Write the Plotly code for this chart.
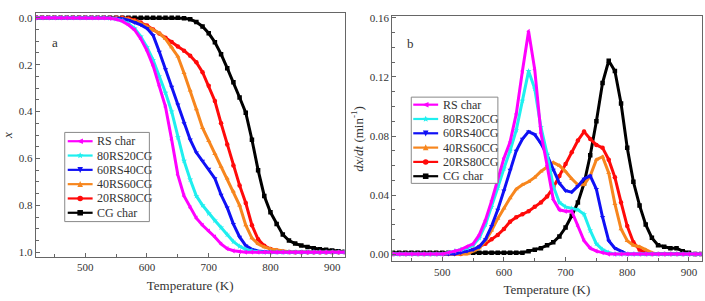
import math
import plotly.graph_objects as go

# Temperatures (K) shared by all series
temperature = list(range(420, 930, 10))  # 420..920

names = ["RS char", "80RS20CG", "60RS40CG", "40RS60CG", "20RS80CG", "CG char"]
colors = ["#FF00FF", "#1FEFEF", "#1010F5", "#F7861E", "#FF0A0A", "#000000"]
symbols = ["triangle-left", "star", "triangle-down", "triangle-up", "circle", "square"]

# ---- conversion x (panel a) ----
x_rs = [0]*12 + [0.002, 0.006, 0.014, 0.03, 0.052, 0.09, 0.14, 0.205, 0.29, 0.38, 0.52, 0.67,
                 0.76, 0.81, 0.855, 0.885, 0.91, 0.935, 0.965, 0.985, 0.994, 0.998] + [1.0]*17
x_80 = [0]*12 + [0.002, 0.005, 0.012, 0.025, 0.045, 0.08, 0.125, 0.18, 0.25, 0.32, 0.40, 0.51,
                 0.61, 0.69, 0.76, 0.80, 0.835, 0.865, 0.895, 0.925, 0.955, 0.975, 0.988, 0.995,
                 0.998] + [1.0]*14
x_60 = [0]*13 + [0.002, 0.004, 0.01, 0.02, 0.03, 0.045, 0.075, 0.145, 0.22, 0.295, 0.37, 0.45,
                 0.52, 0.575, 0.61, 0.645, 0.685, 0.755, 0.81, 0.88, 0.935, 0.972, 0.988, 0.995,
                 0.998] + [1.0]*13
x_40 = [0]*14 + [0.002, 0.006, 0.013, 0.024, 0.037, 0.05, 0.065, 0.09, 0.125, 0.165, 0.235, 0.31,
                 0.39, 0.47, 0.525, 0.58, 0.635, 0.685, 0.74, 0.80, 0.885, 0.94, 0.965, 0.978,
                 0.986, 0.991, 0.995, 0.998] + [1.0]*9
x_20 = [0]*15 + [0.003, 0.01, 0.02, 0.033, 0.05, 0.067, 0.085, 0.103, 0.122, 0.14, 0.162, 0.19,
                 0.232, 0.29, 0.355, 0.45, 0.54, 0.63, 0.715, 0.79, 0.885, 0.945, 0.973, 0.986,
                 0.993, 0.997, 0.999] + [1.0]*9
x_cg = [0]*24 + [0.002, 0.006, 0.018, 0.037, 0.066, 0.104, 0.155, 0.215, 0.275, 0.34, 0.405,
                 0.52, 0.65, 0.76, 0.83, 0.88, 0.925, 0.95, 0.963, 0.972, 0.978, 0.983, 0.987,
                 0.99, 0.993, 0.996, 0.998]

# ---- dx/dt (panel b), min^-1 ----
r_rs = [0]*9 + [0.001, 0.002, 0.003, 0.005, 0.007, 0.013, 0.023, 0.036, 0.050, 0.065, 0.076,
                0.095, 0.124, 0.151, 0.125, 0.082, 0.060, 0.037, 0.030, 0.029, 0.029, 0.019,
                0.009, 0.004, 0.002, 0.001] + [0]*16
r_80 = [0]*9 + [0.001, 0.002, 0.003, 0.004, 0.006, 0.011, 0.020, 0.032, 0.045, 0.058, 0.070,
                0.084, 0.104, 0.124, 0.112, 0.086, 0.068, 0.046, 0.035, 0.032, 0.031, 0.030,
                0.027, 0.016, 0.007, 0.003, 0.001] + [0]*15
r_60 = [0]*11 + [0.001, 0.002, 0.003, 0.005, 0.010, 0.019, 0.030, 0.043, 0.057, 0.070, 0.078,
                 0.083, 0.081, 0.075, 0.067, 0.057, 0.048, 0.043, 0.042, 0.046, 0.051, 0.053,
                 0.044, 0.025, 0.009, 0.004, 0.002] + [0]*13
r_40 = [0]*13 + [0.002, 0.004, 0.009, 0.016, 0.024, 0.031, 0.038, 0.044, 0.047, 0.049, 0.052,
                 0.056, 0.059, 0.062, 0.060, 0.056, 0.051, 0.047, 0.047, 0.053, 0.064, 0.066,
                 0.055, 0.034, 0.017, 0.009, 0.006, 0.005, 0.003, 0.001] + [0]*8
r_20 = [0]*12 + [0.001, 0.003, 0.005, 0.007, 0.010, 0.013, 0.017, 0.022, 0.025, 0.027, 0.029,
                 0.032, 0.035, 0.039, 0.045, 0.053, 0.061, 0.069, 0.077, 0.083, 0.078, 0.074,
                 0.072, 0.064, 0.052, 0.035, 0.019, 0.008, 0.003, 0.001] + [0]*9
r_cg = [0.001]*21 + [0.001, 0.002, 0.003, 0.004, 0.006, 0.008, 0.012, 0.018, 0.026, 0.035,
                     0.048, 0.067, 0.090, 0.116, 0.131, 0.124, 0.102, 0.072, 0.049, 0.033,
                     0.020, 0.011, 0.006, 0.005, 0.004, 0.004, 0.002, 0.001, 0.0, 0.0]

conv = [x_rs, x_80, x_60, x_40, x_20, x_cg]
rate = [r_rs, r_80, r_60, r_40, r_20, r_cg]

FONT = "Liberation Serif, Times New Roman, serif"
TXT = "#333333"
W, H = 705, 301

fig = go.Figure()
order = [5, 4, 3, 2, 1, 0]  # draw RS char last (on top)
for i in order:
    fig.add_trace(go.Scatter(
        x=temperature, y=conv[i], name=names[i], mode="lines+markers",
        line=dict(color=colors[i], width=3), marker=dict(symbol=symbols[i], size=4.5, color=colors[i]),
        xaxis="x", yaxis="y", showlegend=False))
for i in order:
    fig.add_trace(go.Scatter(
        x=temperature, y=rate[i], name=names[i], mode="lines+markers",
        line=dict(color=colors[i], width=3), marker=dict(symbol=symbols[i], size=4.5, color=colors[i]),
        xaxis="x2", yaxis="y2", showlegend=False))

axis_common = dict(showline=True, linecolor="#666666", linewidth=1.3, mirror=True,
                   showgrid=False, zeroline=False, ticks="inside", ticklen=4, tickwidth=1,
                   tickcolor="#666666", tickfont=dict(family=FONT, size=11, color=TXT),
                   minor=dict(ticks="inside", ticklen=3, tickcolor="#666666"))

# ---- hand-drawn legends (pixel layout -> paper coords) ----
def PX(x):
    return x / W

def PY(y):
    return 1 - y / H

shapes, annotations = [], []

def glyph(sym, cx, cy, color, r=2.8):
    if sym == "circle":
        return dict(type="circle", xref="paper", yref="paper", x0=PX(cx - r), x1=PX(cx + r),
                    y0=PY(cy + r), y1=PY(cy - r), fillcolor=color, line=dict(width=0), layer="above")
    if sym == "square":
        return dict(type="rect", xref="paper", yref="paper", x0=PX(cx - r), x1=PX(cx + r),
                    y0=PY(cy + r), y1=PY(cy - r), fillcolor=color, line=dict(width=0), layer="above")
    if sym == "triangle-left":
        pts = [(cx - r - 0.5, cy), (cx + r, cy - r), (cx + r, cy + r)]
    elif sym == "triangle-down":
        pts = [(cx - r, cy - r), (cx + r, cy - r), (cx, cy + r + 0.5)]
    elif sym == "triangle-up":
        pts = [(cx - r, cy + r), (cx + r, cy + r), (cx, cy - r - 0.5)]
    else:  # star
        pts = []
        for k in range(10):
            ang = -math.pi / 2 + k * math.pi / 5
            rr = r + 0.6 if k % 2 == 0 else (r + 0.6) * 0.45
            pts.append((cx + rr * math.cos(ang), cy + rr * math.sin(ang)))
    path = "M " + " L ".join(f"{PX(a):.5f},{PY(b):.5f}" for a, b in pts) + " Z"
    return dict(type="path", xref="paper", yref="paper", path=path, fillcolor=color,
                line=dict(width=0), layer="above")

def legend_block(bx0, bx1, by0, by1, first_y, step, lx0, lx1, tx):
    shapes.append(dict(type="rect", xref="paper", yref="paper", x0=PX(bx0), x1=PX(bx1),
                       y0=PY(by1), y1=PY(by0), fillcolor="white",
                       line=dict(color="#888888", width=1), layer="above"))
    for k in range(6):
        yy = first_y + k * step
        shapes.append(dict(type="line", xref="paper", yref="paper", x0=PX(lx0), x1=PX(lx1),
                           y0=PY(yy), y1=PY(yy), line=dict(color=colors[k], width=2.2),
                           layer="above"))
        shapes.append(glyph(symbols[k], (lx0 + lx1) / 2, yy, colors[k]))
        annotations.append(dict(text=names[k], x=PX(tx), y=PY(yy), xref="paper", yref="paper",
                                xanchor="left", yanchor="middle", showarrow=False,
                                font=dict(family=FONT, size=12, color=TXT)))

legend_block(62, 147, 130, 221, 139, 14.6, 65, 90, 92)
legend_block(410, 497, 94, 182, 101.7, 14.6, 412, 437, 440)

annotations += [
    dict(text="a", x=PX(47), y=PY(29), xref="paper", yref="paper", showarrow=False,
         font=dict(family=FONT, size=13, color=TXT)),
    dict(text="b", x=PX(409), y=PY(30), xref="paper", yref="paper", showarrow=False,
         font=dict(family=FONT, size=13, color=TXT)),
]

title_font = dict(family=FONT, size=13, color=TXT)
fig.update_layout(
    width=W, height=H, margin=dict(l=0, r=0, t=0, b=0),
    paper_bgcolor="white", plot_bgcolor="white",
    font=dict(family=FONT, size=11, color=TXT),
    showlegend=False,
    xaxis=dict(domain=[33 / W, 343 / W], range=[420, 920], tickvals=[500, 600, 700, 800, 900],
               title=dict(text="Temperature (K)", font=title_font, standoff=8),
               anchor="y", **axis_common),
    yaxis=dict(domain=[1 - 257 / H, 1 - 8.3 / H], range=[1.02, -0.02],
               tickvals=[0, 0.2, 0.4, 0.6, 0.8, 1.0], tickformat=".1f",
               title=dict(text="<i>x</i>", font=title_font, standoff=10),
               anchor="x", **axis_common),
    xaxis2=dict(domain=[391 / W, 701.5 / W], range=[419, 920.5], tickvals=[500, 600, 700, 800, 900],
                title=dict(text="Temperature (K)", font=title_font, standoff=8),
                anchor="y2", **axis_common),
    yaxis2=dict(domain=[1 - 261.7 / H, 1 - 11.7 / H], range=[-0.005, 0.161],
                tickvals=[0, 0.04, 0.08, 0.12, 0.16], tickformat=".2f",
                title=dict(text="<i>dx</i>/<i>dt</i> (min<sup>-1</sup>)", font=title_font,
                           standoff=3),
                anchor="x2", **axis_common),
    shapes=shapes,
    annotations=annotations,
)

fig.write_html("out.html", config={"displayModeBar": False},
               post_script="document.body.style.margin='0px';")
